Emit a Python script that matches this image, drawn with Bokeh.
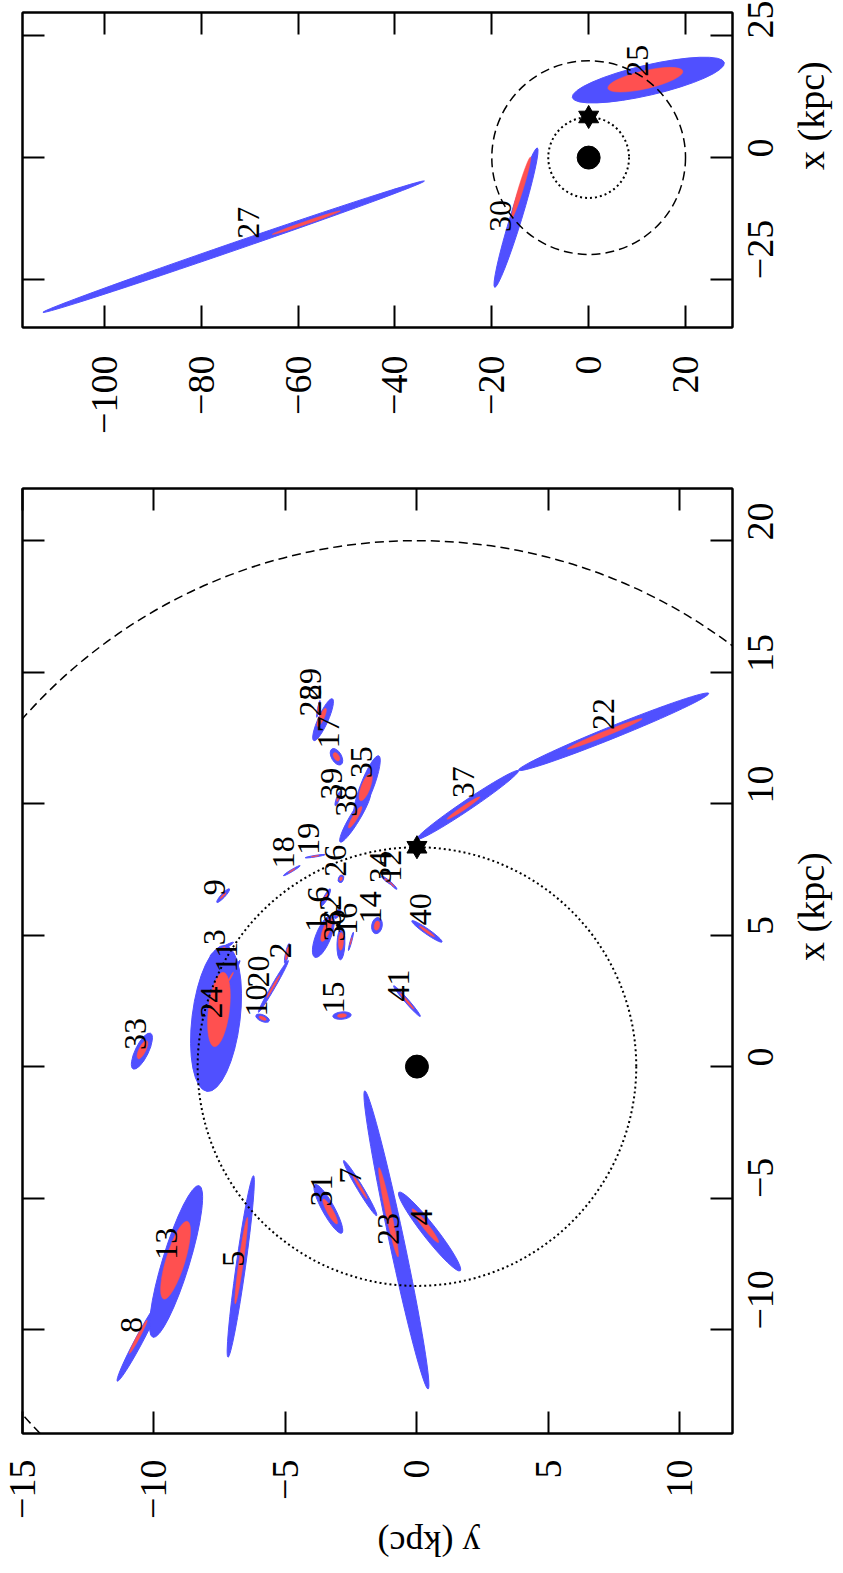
import numpy as np
from bokeh.plotting import figure
from bokeh.models import Range1d, LinearAxis, FixedTicker
from bokeh.layouts import column
from bokeh.embed import file_html
from bokeh.resources import INLINE
from bokeh.core.properties import value

FONT = "Liberation Serif"
BLUE = "#5050ff"
RED = "#ff5050"

R_SUN = 8.34      # Sun - Galactic centre distance (kpc)
R_OUTER = 20.0    # outer reference circle (kpc)

# ---------------- sources in the zoomed map ----------------
# centre of the 95% region (x, y in kpc), its length / width (kpc) and
# position angle in the map plane (deg)
main_id = ["8", "13", "5", "31", "7", "23", "4", "33", "24", "11", "3", "10", "20",
           "2", "9", "18", "19", "26", "34", "12", "14", "15", "41", "40", "1", "36",
           "16", "6", "32", "29", "28", "17", "35", "38", "39", "37", "22"]
main_x = [-10.43, -7.41, -7.60, -5.41, -4.62, -6.59, -6.27, 0.59, 1.83, 3.41, 4.47, 1.84, 3.05,
          4.30, 6.50, 7.45, 8.00, 7.14, 7.07, 6.92, 5.36, 1.94, 2.49, 5.14, 4.95, 4.67,
          4.76, 6.44, 5.81, 13.19, 13.60, 11.78, 10.65, 9.48, 10.20, 9.95, 12.73]
main_y = [-10.58, -9.16, -6.70, -3.37, -2.16, -0.78, 0.48, -10.46, -7.64, -7.08, -7.42, -5.87, -5.46,
          -4.94, -7.37, -4.76, -3.87, -2.89, -1.13, -0.94, -1.52, -2.85, -0.38, 0.38, -3.56, -2.89,
          -2.51, -3.46, -3.02, -3.57, -3.75, -3.06, -1.90, -2.35, -3.00, 1.93, 7.48]
main_len = [3.47, 6.03, 6.97, 2.11, 2.44, 11.59, 3.79, 1.51, 5.59, 1.43, 1.02, 0.55, 2.27,
            0.78, 0.70, 0.74, 0.77, 0.30, 0.56, 0.50, 0.62, 0.70, 1.54, 1.40, 1.71, 1.22,
            0.72, 0.71, 0.40, 1.74, 0.65, 0.69, 2.50, 2.20, 0.60, 4.66, 7.80]
main_wid = [0.30, 1.03, 0.36, 0.46, 0.22, 0.56, 0.53, 0.50, 1.83, 0.12, 0.12, 0.25, 0.15,
            0.12, 0.15, 0.08, 0.06, 0.20, 0.10, 0.08, 0.40, 0.28, 0.15, 0.20, 0.57, 0.30,
            0.06, 0.15, 0.15, 0.38, 0.06, 0.38, 0.50, 0.38, 0.12, 0.38, 0.46]
main_pa = [62, 73, 82, 119, 121, 102, 128, 64, 83, 61, 30, -23, 60,
           78, 47, 31, 9, 70, -38, -45, 80, 5, 131, 145, 68, 88,
           75, 63, 60, 66, 79, 120, 69, 59, 70, 34, 22]
# 68% region (same position angle)
core_x = [-10.28, -7.36, -7.38, -5.51, -4.59, -5.54, -6.05, 0.64, 2.17, 3.41, 4.47, 1.84, 3.05,
          4.30, 6.50, 7.45, 8.00, 7.14, 7.07, 6.92, 5.36, 1.94, 2.49, 5.14, 5.20, 4.76,
          4.76, 6.44, 5.81, 13.28, 13.60, 11.78, 10.62, 9.48, 10.20, 9.83, 12.65]
core_y = [-10.60, -9.18, -6.68, -3.30, -2.16, -1.08, 0.32, -10.44, -7.53, -7.08, -7.42, -5.87, -5.46,
          -4.94, -7.37, -4.76, -3.87, -2.89, -1.13, -0.94, -1.52, -2.85, -0.38, 0.38, -3.44, -2.89,
          -2.51, -3.46, -3.02, -3.62, -3.75, -3.06, -1.95, -2.35, -3.00, 1.77, 7.14]
core_len = [1.44, 3.09, 3.33, 1.08, 1.02, 3.48, 1.62, 0.76, 2.85, 0.40, 0.30, 0.30, 1.00,
            0.50, 0.30, 0.30, 0.30, 0.15, 0.25, 0.22, 0.35, 0.35, 0.80, 0.70, 0.95, 0.68,
            0.30, 0.30, 0.20, 0.76, 0.40, 0.35, 1.10, 0.95, 0.25, 1.51, 3.07]
core_wid = [0.12, 0.72, 0.17, 0.23, 0.09, 0.22, 0.22, 0.26, 0.80, 0.05, 0.05, 0.12, 0.07,
            0.08, 0.06, 0.04, 0.03, 0.10, 0.05, 0.04, 0.20, 0.14, 0.07, 0.09, 0.27, 0.19,
            0.03, 0.07, 0.07, 0.19, 0.04, 0.20, 0.34, 0.19, 0.06, 0.15, 0.19]
# label anchor positions (kpc)
lab_x = [-9.82, -6.74, -7.31, -4.71, -4.14, -6.17, -5.73, 1.24, 2.44, 4.16, 4.92, 2.51, 3.62,
         4.41, 6.82, 8.15, 8.66, 7.83, 7.58, 7.64, 6.06, 2.63, 3.08, 5.98, 5.43, 5.36,
         5.62, 6.54, 5.93, 14.55, 13.92, 12.71, 11.57, 10.11, 10.75, 10.81, 13.41]
lab_y = [-10.85, -9.52, -6.98, -3.62, -2.54, -1.08, 0.19, -10.72, -7.80, -7.26, -7.68, -6.12, -6.03,
         -5.20, -7.68, -5.08, -4.13, -3.11, -1.40, -1.02, -1.78, -3.17, -0.70, 0.13, -3.83, -3.14,
         -2.69, -3.75, -3.30, -4.03, -4.03, -3.37, -2.09, -2.66, -3.24, 1.77, 7.10]

# ---------------- distant sources (overview map) ----------------
far_id = ["27", "30", "25"]
far_x = [-18.3, -12.33, 15.92]
far_y = [-73.3, -15.0, 12.32]
far_len = [83.3, 30.1, 32.2]
far_wid = [1.6, 2.4, 6.2]
far_pa = [19, 73, 13]
far_core_x = [-13.36, -6.16, 16.0]
far_core_y = [-58.3, -13.94, 11.7]
far_core_len = [14.9, 13.2, 15.9]
far_core_wid = [0.6, 1.0, 3.7]
far_lab_x = [-13.36, -12.0, 19.87]
far_lab_y = [-70.2, -18.3, 10.15]

main_yticks = [-15, -10, -5, 0, 5, 10]
main_xticks = [-10, -5, 0, 5, 10, 15, 20]
far_yticks = [-100, -80, -60, -40, -20, 0, 20]
far_xticks = [-25, 0, 25]


def fmt(ticks):
    return {t: str(t).replace("-", "\u2212") for t in ticks}


def dress(p, hticks, vticks):
    """Frame with inward ticks on all four sides; the map's y runs horizontally
    and x vertically, every label reading bottom-to-top."""
    for ax in (p.below[0], p.right[0]):
        ax.major_label_orientation = np.pi / 2
        ax.major_label_text_font = FONT
        ax.major_label_text_font_size = "38px"
        ax.major_label_text_color = "black"
        ax.major_label_standoff = 28
        ax.axis_label_text_font = FONT
        ax.axis_label_text_font_size = "38px"
        ax.axis_label_text_font_style = "normal"
        ax.axis_label_text_color = "black"
        ax.axis_label_standoff = 22
    p.below[0].ticker = FixedTicker(ticks=hticks)
    p.below[0].major_label_overrides = fmt(hticks)
    p.right[0].ticker = FixedTicker(ticks=vticks)
    p.right[0].major_label_overrides = fmt(vticks)
    # mirrored tick rows on the opposite sides, without numbers
    p.add_layout(LinearAxis(ticker=FixedTicker(ticks=hticks),
                            major_label_overrides={t: "" for t in hticks}), "above")
    p.add_layout(LinearAxis(ticker=FixedTicker(ticks=vticks),
                            major_label_overrides={t: "" for t in vticks}), "left")
    for ax in (p.above[0], p.left[0]):
        ax.major_label_standoff = 0
    for ax in p.below + p.right + p.above + p.left:
        ax.major_tick_in = 22
        ax.major_tick_out = 0
        ax.minor_tick_line_color = None
        ax.major_tick_line_width = 2
        ax.major_tick_line_color = "black"
        ax.axis_line_width = 2
        ax.axis_line_color = "black"
    p.outline_line_color = "black"
    p.outline_line_width = 2
    p.grid.visible = False
    p.background_fill_color = "white"
    p.border_fill_color = "white"


def galaxy(p, dot_size):
    p.circle(x=[0], y=[0], radius=R_SUN, fill_color=None, line_color="black",
             line_width=2, line_dash="2 3")
    p.circle(x=[0], y=[0], radius=R_OUTER, fill_color=None, line_color="black",
             line_width=1.5, line_dash="9 5")
    p.scatter(x=[0], y=[0], size=dot_size, marker="circle", color="black")
    # the Sun: a six-pointed star from two overlaid triangles
    p.scatter(x=[0], y=[R_SUN], size=20, marker="triangle", color="black")
    p.scatter(x=[0], y=[R_SUN], size=20, marker="inverted_triangle", color="black")


def regions(p, xs, ys, lens, wids, pas, cxs, cys, clens, cwids):
    ang = np.radians(pas)
    p.ellipse(x=ys, y=xs, width=lens, height=wids, angle=ang,
              fill_color=BLUE, line_color=BLUE, line_width=1)
    p.ellipse(x=cys, y=cxs, width=clens, height=cwids, angle=ang,
              fill_color=RED, line_color=RED, line_width=0.5)


# ---------------- overview panel ----------------
top = figure(frame_width=710, frame_height=315, output_backend="svg", toolbar_location=None,
             x_range=Range1d(-116.9, 29.7), y_range=Range1d(-34.9, 29.8),
             x_axis_location="below", y_axis_location="right",
             min_border_left=22, min_border_right=0, min_border_top=12, min_border_bottom=120)
dress(top, far_yticks, far_xticks)
top.right[0].axis_label = "x (kpc)"
top.right[0].axis_label_orientation = np.pi / 2
regions(top, far_x, far_y, far_len, far_wid, far_pa,
        far_core_x, far_core_y, far_core_len, far_core_wid)
galaxy(top, 23)
top.text(x=far_lab_y, y=far_lab_x, text=far_id, angle=np.pi / 2,
         text_font=value(FONT), text_font_size="32px",
         text_align="center", text_baseline="middle", text_color="black")

# ---------------- zoomed panel ----------------
p = figure(frame_width=710, frame_height=945, output_backend="svg", toolbar_location=None,
           x_range=Range1d(-15.0, 12.0), y_range=Range1d(-13.95, 21.98),
           x_axis_location="below", y_axis_location="right",
           min_border_left=22, min_border_right=0, min_border_top=41, min_border_bottom=0)
dress(p, main_yticks, main_xticks)
p.right[0].axis_label = "x (kpc)"
p.right[0].axis_label_orientation = np.pi / 2
p.below[0].axis_label = "y (kpc)"
p.below[0].axis_label_orientation = np.pi
p.below[0].axis_label_text_font_size = "36px"
p.below[0].axis_label_standoff = 22
p.below[0].major_label_standoff = 26
regions(p, main_x, main_y, main_len, main_wid, main_pa,
        core_x, core_y, core_len, core_wid)
galaxy(p, 23)
p.text(x=lab_y, y=lab_x, text=main_id, angle=np.pi / 2,
       text_font=value(FONT), text_font_size="32px",
       text_align="center", text_baseline="middle", text_color="black")

layout = column(top, p, spacing=0)
open("out.html", "w").write(file_html(layout, INLINE))
